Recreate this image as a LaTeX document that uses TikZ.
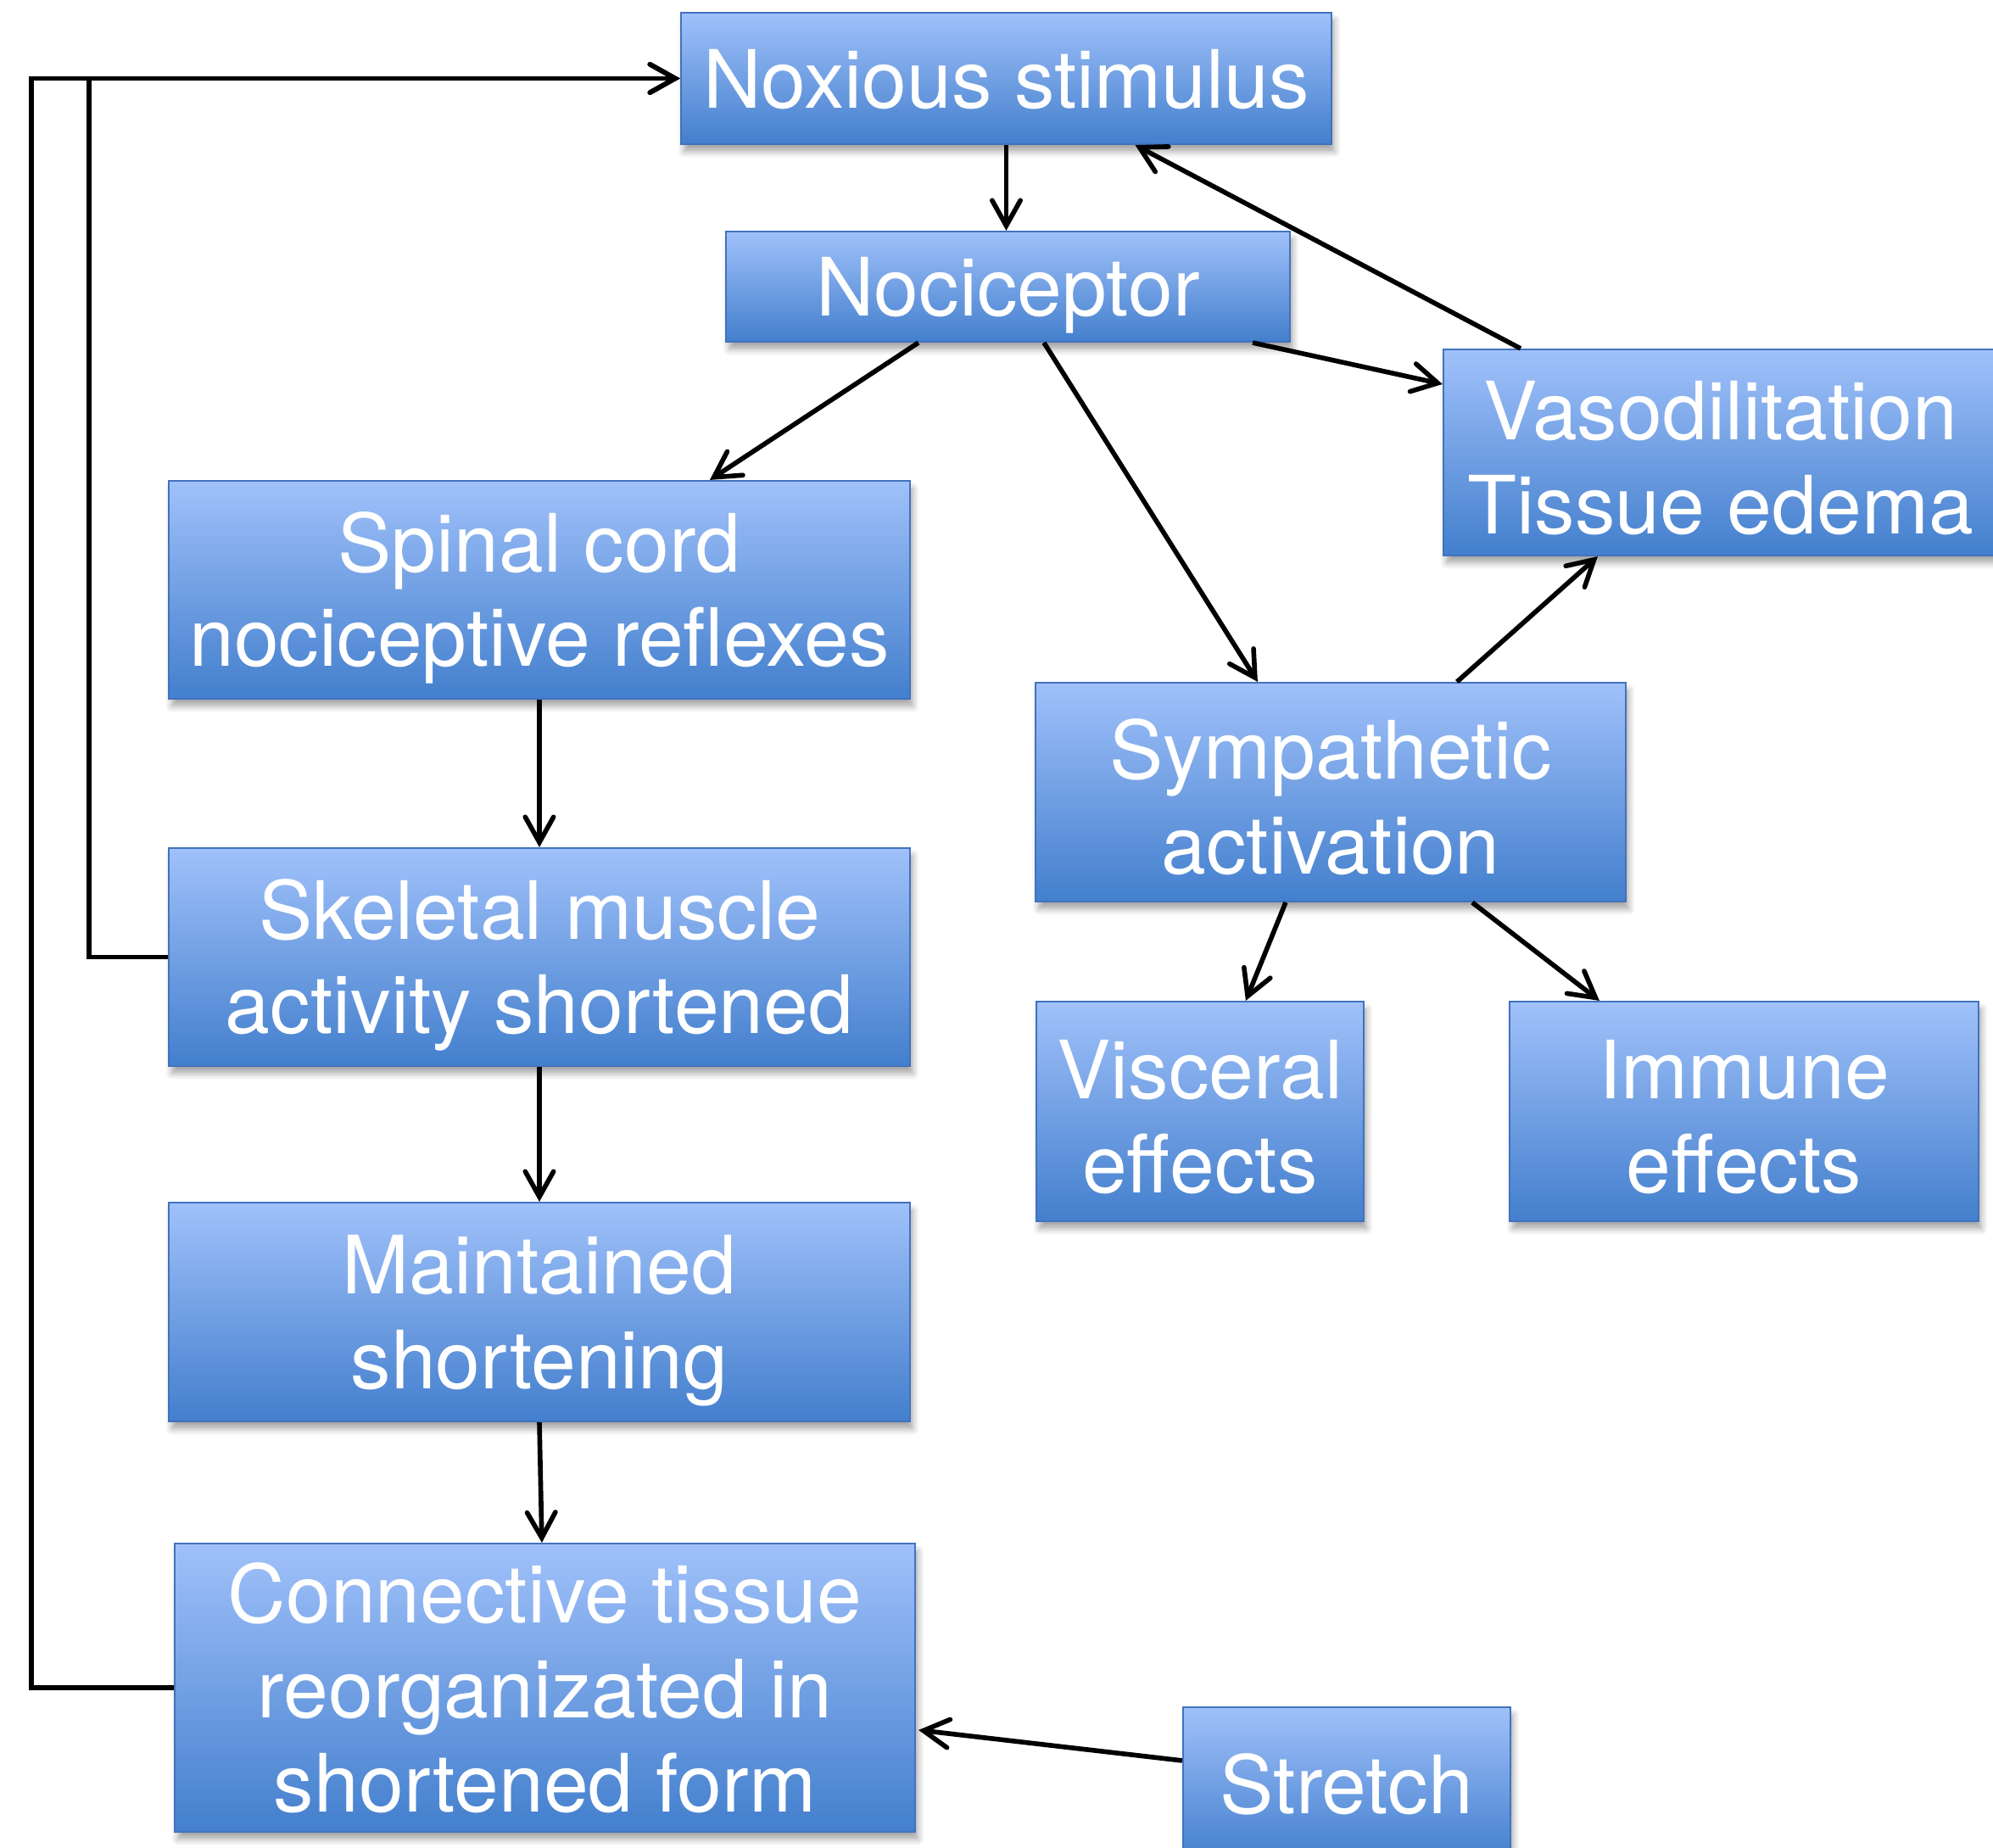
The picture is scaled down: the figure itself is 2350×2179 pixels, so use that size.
\documentclass[tikz,border=0pt]{standalone}
\usepackage{fontspec}
\setmainfont{TeX Gyre Heros}
\usetikzlibrary{arrows.meta,calc,shadows.blur}
\definecolor{boxtop}{RGB}{160,193,250}
\definecolor{boxbot}{RGB}{67,127,205}
\definecolor{boxline}{RGB}{66,114,190}
\newcommand\ls{\rule[-2.5pt]{0pt}{28pt}}
\newcommand\lsup{\rule[-4pt]{0pt}{28pt}}
\tikzset{
  box/.style={rectangle, inner sep=0pt, align=center, text=white,
    top color=boxtop, bottom color=boxbot, draw=boxline, line width=0.6pt,
    font=\fontsize{27}{31.7}\selectfont,
    blur shadow={shadow xshift=1pt, shadow yshift=-2.5pt, shadow blur steps=6, shadow opacity=35}},
  conn/.style={line width=1.6pt, -{Straight Barb[length=8.5pt,width=9.5pt,line cap=round]}},
}
\begin{document}
\begin{tikzpicture}[x=0.01cm,y=-0.01cm]
\useasboundingbox (0,0) rectangle (2350,2179);
\node[box, minimum width=767*0.01cm, minimum height=155*0.01cm] (nox) at (1186.5,92.5) {\lsup Noxious stimulus};
\node[box, minimum width=665*0.01cm, minimum height=130*0.01cm] (noc) at (1188.5,338) {\ls Nociceptor};
\node[box, minimum width=654*0.01cm, minimum height=243*0.01cm] (vaso) at (2029,533.5) {\ls Vasodilitation\\\ls Tissue edema};
\node[box, minimum width=874*0.01cm, minimum height=257*0.01cm] (spinal) at (636,695.5) {\ls Spinal cord\\\ls nociceptive reflexes};
\node[box, minimum width=696*0.01cm, minimum height=258*0.01cm] (symp) at (1569,934) {\ls Sympathetic\\\ls activation};
\node[box, minimum width=874*0.01cm, minimum height=257*0.01cm] (skel) at (636,1128.5) {\ls Skeletal muscle\\\ls activity shortened};
\node[box, minimum width=386*0.01cm, minimum height=259*0.01cm] (visc) at (1415,1310.5) {\ls Visceral\\\ls effects};
\node[box, minimum width=553*0.01cm, minimum height=259*0.01cm] (imm) at (2056.5,1310.5) {\ls Immune\\\ls effects};
\node[box, minimum width=874*0.01cm, minimum height=258*0.01cm] (maint) at (636,1547) {\ls Maintained\\\ls shortening};
\node[box, minimum width=873*0.01cm, minimum height=340*0.01cm] (cnt) at (642.5,1990) {\lsup Connective tissue\\\ls reorganizated in\\\lsup shortened form};
\node[box, minimum width=386*0.01cm, minimum height=180*0.01cm] (stretch) at (1588,2103) {\lsup Stretch};

\coordinate (inner) at (105,0);
\coordinate (outer) at (37,0);

\draw[conn] (nox.south) -- (nox.south |- noc.north);
\draw[conn] ($(vaso.north west)+(92,0)$) -- ($(nox.south)+(152,0)$);
\draw[conn] ($(noc.south east)+(-45,0)$) -- ($(vaso.north west)+(0,42)$);
\draw[conn] ($(noc.south west)+(228,0)$) -- ($(spinal.north west)+(639,0)$);
\draw[conn] ($(noc.south west)+(376,0)$) -- ($(symp.north west)+(263,0)$);
\draw[conn] ($(symp.north west)+(498,0)$) -- ($(vaso.south west)+(183,0)$);
\draw[conn] ($(symp.south west)+(296,0)$) -- ($(visc.north west)+(248,0)$);
\draw[conn] ($(symp.south west)+(516,0)$) -- ($(imm.north west)+(107,0)$);
\draw[conn] (spinal.south) -- (skel.north);
\draw[conn] (skel.south) -- (maint.south |- maint.north);
\draw[conn] (maint.south) -- ($(cnt.north west)+(434,0)$);
\draw[conn] ($(stretch.north west)+(0,64)$) -- ($(cnt.north east)+(3,221)$);
\draw[conn] (skel.west) -- (skel.west -| inner) |- (nox.west);
\draw[conn] (cnt.west) -- (cnt.west -| outer) |- (nox.west);
\end{tikzpicture}
\end{document}
